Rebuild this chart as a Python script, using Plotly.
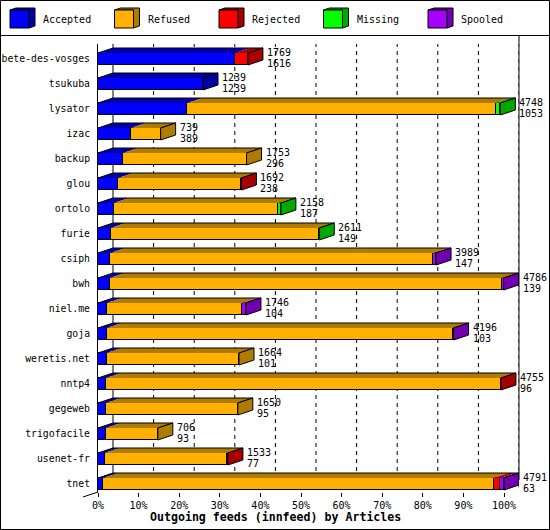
import plotly.graph_objects as go

# ---------------- data ----------------
hosts = ["bete-des-vosges", "tsukuba", "lysator", "izac", "backup", "glou", "ortolo",
         "furie", "csiph", "bwh", "niel.me", "goja", "weretis.net", "nntp4", "gegeweb",
         "trigofacile", "usenet-fr", "tnet"]
accepted = [1616, 1239, 1053, 389, 296, 238, 187, 149, 147, 139, 104, 103, 101, 96, 95, 93, 77, 63]
refused = [0, 0, 3645, 350, 1457, 1444, 1941, 2454, 3812, 4632, 1597, 4088, 1563, 4656, 1555, 613, 1441, 4608]
rejected = [153, 0, 0, 0, 0, 10, 0, 0, 0, 0, 0, 0, 0, 3, 0, 0, 15, 75]
missing = [0, 0, 50, 0, 0, 0, 30, 8, 0, 0, 0, 0, 0, 0, 0, 0, 0, 0]
spooled = [0, 0, 0, 0, 0, 0, 0, 0, 30, 15, 45, 5, 0, 0, 0, 0, 0, 45]

series_names = ["Accepted", "Refused", "Rejected", "Missing", "Spooled"]
series_values = [accepted, refused, rejected, missing, spooled]
front_colors = ["#0000FF", "#FFB000", "#FF0000", "#00FF00", "#A800FF"]
dark_colors = ["#0000A8", "#B07C00", "#A80000", "#00A800", "#7000B0"]

tick_vals = [0, 10, 20, 30, 40, 50, 60, 70, 80, 90, 100]
tick_text = [f"{v}%" for v in tick_vals]
x_title = "Outgoing feeds (innfeed) by Articles"

# ---------------- geometry ----------------
W, H = 550, 530
L, R, T, B = 98, 519, 44, 492
PX100 = 406.0                      # pixels for 100 %
XMAX = 100 * (R - L) / PX100
DX = 15 / PX100 * 100              # depth offset in x units
ROW_PX = 25.0
Y0PX = 59.0
YTOP = (T - Y0PX) / ROW_PX
YBOT = (B - Y0PX) / ROW_PX
DY = 5 / ROW_PX
HALF = 6 / ROW_PX
FONT = "DejaVu Sans Mono"


def px(x):
    return (x - L) / (R - L)


def py(y):
    return (B - y) / (B - T)


n = len(hosts)
totals = [sum(s[i] for s in series_values) for i in range(n)]
maxtot = max(totals)
pct = [[v / maxtot * 100 for v in s] for s in series_values]
ys = list(range(n))

fig = go.Figure()
for k, name in enumerate(series_names):
    fig.add_trace(go.Bar(
        y=ys, x=[v if v > 0 else None for v in pct[k]], orientation="h", name=name,
        width=2 * HALF, marker=dict(color=front_colors[k], line=dict(color="black", width=1)),
        showlegend=False, hoverinfo="skip"))

shapes = []
# gridlines (back plane)
for v in tick_vals:
    shapes.append(dict(type="line", xref="x", yref="paper", x0=v + DX, x1=v + DX,
                       y0=py(487), y1=py(T), layer="below",
                       line=dict(color="black", width=1, dash="solid" if v == 0 else "4px,4px")))

# 3D faces
for i in range(n):
    yt = i - HALF
    yb = i + HALF
    start = 0.0
    last_k = None
    for k in range(len(series_names)):
        w = pct[k][i]
        if w <= 0:
            continue
        x0, x1 = start, start + w
        shapes.append(dict(type="path", xref="x", yref="y", layer="above",
                           path=f"M{x0},{yt} L{x0 + DX},{yt - DY} L{x1 + DX},{yt - DY} L{x1},{yt} Z",
                           fillcolor=dark_colors[k], line=dict(width=0)))
        start = x1
        last_k = k
    end = start
    # top outline
    shapes.append(dict(type="path", xref="x", yref="y", layer="above",
                       path=f"M0,{yt} L{DX},{yt - DY} L{end + DX},{yt - DY} L{end},{yt}",
                       line=dict(color="black", width=1)))
    # side face
    shapes.append(dict(type="path", xref="x", yref="y", layer="above",
                       path=f"M{end},{yt} L{end + DX},{yt - DY} L{end + DX},{yb - DY} L{end},{yb} Z",
                       fillcolor=dark_colors[last_k], line=dict(color="black", width=1)))

# frame lines
shapes.append(dict(type="line", xref="paper", yref="paper", x0=px(R), x1=px(R),
                   y0=py(480), y1=py(36), line=dict(color="black", width=1)))
shapes.append(dict(type="line", xref="paper", yref="paper", x0=px(83), x1=px(L),
                   y0=py(497), y1=py(492), line=dict(color="black", width=1)))
shapes.append(dict(type="line", xref="paper", yref="paper", x0=px(0), x1=px(550),
                   y0=py(35.5), y1=py(35.5), line=dict(color="black", width=1)))
shapes.append(dict(type="rect", xref="paper", yref="paper", x0=px(0.5), x1=px(549.5),
                   y0=py(529.5), y1=py(0.5), line=dict(color="black", width=1)))

annotations = []
# legend
for k, name in enumerate(series_names):
    lx = 10 + 104.5 * k
    shapes.append(dict(type="path", xref="paper", yref="paper",
                       path=f"M{px(lx)},{py(10)} L{px(lx + 6)},{py(8)} L{px(lx + 25)},{py(8)} "
                            f"L{px(lx + 25)},{py(26)} L{px(lx + 19)},{py(28)} L{px(lx + 19)},{py(10)} Z",
                       fillcolor=dark_colors[k], line=dict(color="black", width=1)))
    shapes.append(dict(type="rect", xref="paper", yref="paper",
                       x0=px(lx), x1=px(lx + 19), y0=py(28), y1=py(10),
                       fillcolor=front_colors[k], line=dict(color="black", width=1)))
    annotations.append(dict(xref="paper", yref="paper", x=px(lx + 31), y=py(19.5),
                            text=name, showarrow=False, xanchor="left", yanchor="middle",
                            font=dict(family=FONT, size=10, color="black")))

# value labels
for i in range(n):
    end = totals[i] / maxtot * 100 + DX
    annotations.append(dict(xref="x", yref="y", x=end, y=i, text=str(totals[i]),
                            showarrow=False, xanchor="left", yanchor="middle", xshift=2, yshift=7,
                            font=dict(family=FONT, size=10, color="black")))
    annotations.append(dict(xref="x", yref="y", x=end, y=i, text=str(accepted[i]),
                            showarrow=False, xanchor="left", yanchor="middle", xshift=2, yshift=-4,
                            font=dict(family=FONT, size=10, color="black")))

annotations.append(dict(xref="paper", yref="paper", x=px(275), y=py(517), text=f"<b>{x_title}</b>",
                        showarrow=False, xanchor="center", yanchor="middle",
                        font=dict(family=FONT, size=11.6, color="black")))

fig.update_layout(
    width=W, height=H, barmode="stack", bargap=0,
    margin=dict(l=L, r=W - R, t=T, b=H - B, pad=0, autoexpand=False),
    paper_bgcolor="white", plot_bgcolor="white",
    font=dict(family=FONT, size=10, color="black"),
    xaxis=dict(range=[0, XMAX], tickmode="array", tickvals=tick_vals, ticktext=tick_text,
               ticks="outside", ticklen=4, tickcolor="black", showgrid=False, zeroline=False,
               showline=False, fixedrange=True, automargin=False, tickfont=dict(family=FONT, size=10)),
    yaxis=dict(range=[YBOT, YTOP], tickmode="array", tickvals=ys, ticktext=hosts,
               ticks="", showgrid=False, zeroline=False, showline=True, linecolor="black",
               linewidth=1, ticklabelstandoff=5, fixedrange=True, automargin=False,
               tickfont=dict(family=FONT, size=9.8)),
    shapes=shapes, annotations=annotations, showlegend=False,
)

fig.write_html("out.html", config={"displayModeBar": False},
               post_script="document.body.style.margin='0';document.body.style.overflow='hidden';")
